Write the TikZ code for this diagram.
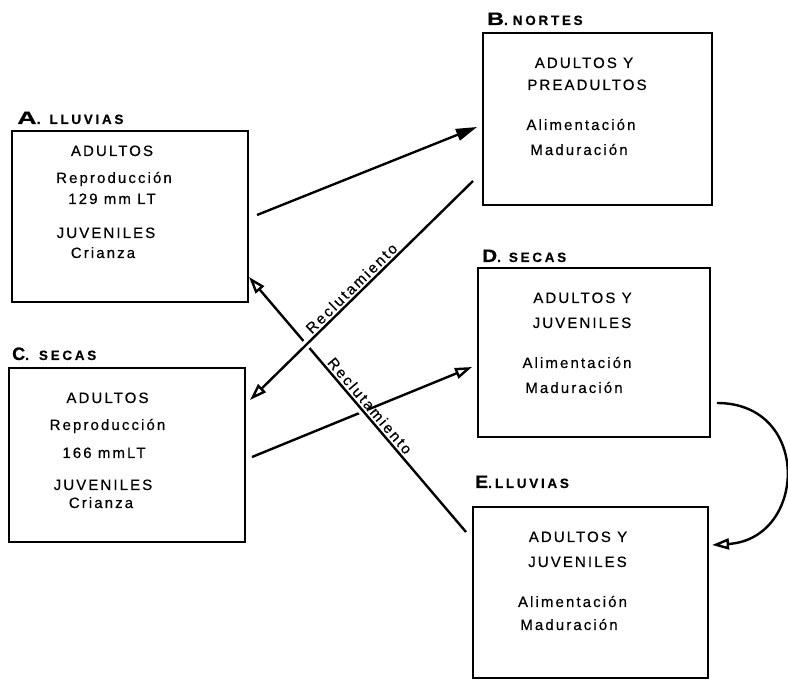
\documentclass[tikz,border=0pt]{standalone}
\usepackage{fontspec}
\usepackage{graphicx}
\setmainfont{Liberation Sans}
\newfontfamily\bodyfont[LetterSpace=14,FakeBold=0.5]{Liberation Sans}
\newfontfamily\headfont[LetterSpace=20,FakeBold=0.4]{Liberation Sans Bold}
\newfontfamily\letterfont[FakeBold=0.4]{Liberation Sans Bold}
\usetikzlibrary{arrows.meta,calc}

\begin{document}
\begin{tikzpicture}[x=1pt,y=-1pt,
  panel/.style 2 args={draw, line width=2.4pt, minimum width=#1, minimum height=#2,
    inner sep=0pt, outer sep=0pt},
  txt/.style={anchor=base, inner sep=0pt, font=\bodyfont\fontsize{15}{18}\selectfont},
  head/.style={anchor=base west, inner sep=0pt},
  link/.style={line width=2.4pt},
  openhead/.style={-{Triangle[open,length=17pt,width=11pt]}},
  fullhead/.style={-{Triangle[length=21pt,width=12pt]}},
  halo/.style={preaction={draw=white, line width=9pt, -, shorten <=25pt, shorten >=25pt}},
  tag/.style={sloped, above, inner sep=2pt, font=\bodyfont\fontsize{15}{18}\selectfont}]

\useasboundingbox (0,0) rectangle (788,684);

% season panels
\node[panel={236pt}{171pt}] (A) at (130,216.5) {};
\node[panel={229pt}{172pt}] (B) at (597.5,119) {};
\node[panel={236pt}{174pt}] (C) at (127,455) {};
\node[panel={232pt}{169pt}] (D) at (594,352.5) {};
\node[panel={235pt}{171pt}] (E) at (590.5,592.5) {};

% panel headings: wide bold letter, then the season in spaced capitals
\newcommand\bigletter[2]{\scalebox{#1}[1]{\letterfont\fontsize{18}{18}\selectfont #2}}
\newcommand\smallhead[1]{{\headfont\fontsize{13.5}{14}\selectfont #1}}
\node[head] (hA) at (17,124)  {\bigletter{1.5}{A}\smallhead{.\hspace{9pt}LLUVIAS}};
\node[head] (hB) at (487,25)  {\bigletter{1.3}{B}\smallhead{.\hspace{5pt}NORTES}};
\node[head] (hC) at (12,360)  {\bigletter{1.0}{C}\smallhead{.\hspace{10pt}SECAS}};
\node[head] (hD) at (482,262) {\bigletter{1.15}{D}\smallhead{.\hspace{8pt}SECAS}};
\node[head] (hE) at (475,488) {\bigletter{1.08}{E}\smallhead{.\hspace{3pt}LLUVIAS}};

% panel contents
\node[txt] (a1) at (112,156) {ADULTOS};
\node[txt] (a2) at (114,183) {Reproducción};
\node[txt] (a3) at (112,204) {129 mm LT};
\node[txt] (a4) at (106,238) {JUVENILES};
\node[txt] (a5) at (103,258) {Crianza};

\node[txt] (b1) at (584,68)  {ADULTOS Y};
\node[txt] (b2) at (587,90)  {PREADULTOS};
\node[txt] (b3) at (581,130) {Alimentación};
\node[txt] (b4) at (579,155) {Maduración};

\node[txt] (c1) at (107.5,403) {ADULTOS};
\node[txt] (c2) at (107.5,430) {Reproducción};
\node[txt] (c3) at (104,458)   {166 mmLT};
\node[txt] (c4) at (103,490)   {JUVENILES};
\node[txt] (c5) at (101,508)   {Crianza};

\node[txt] (d1) at (582.5,303) {ADULTOS Y};
\node[txt] (d2) at (582,328)   {JUVENILES};
\node[txt] (d3) at (577,368)   {Alimentación};
\node[txt] (d4) at (574,393)   {Maduración};

\node[txt] (e1) at (578,542)   {ADULTOS Y};
\node[txt] (e2) at (577.5,567) {JUVENILES};
\node[txt] (e3) at (572.5,607) {Alimentación};
\node[txt] (e4) at (569,630)   {Maduración};

% connector ends
\coordinate (abS) at ($(A.east)+(9,-1.5)$);
\coordinate (abE) at ($(B.west)+(-6,8)$);
\coordinate (bcS) at ($(B.west)+(-10,62)$);
\coordinate (bcE) at ($(C.east)+(5,-55)$);
\coordinate (eaS) at ($(E.west)+(-7,-60.5)$);
\coordinate (eaE) at ($(A.east)+(1,60.5)$);
\coordinate (cdS) at ($(C.east)+(7,2)$);
\coordinate (cdE) at ($(D.west)+(-6,14.5)$);
\coordinate (deS) at ($(D.east)+(7,50.5)$);
\coordinate (deE) at ($(E.east)+(4,-47.5)$);

% connectors
\draw[link, fullhead] (abS) -- (abE);
\draw[link, openhead] (cdS) -- (cdE);
\draw[link, openhead, halo] (eaS) -- node[tag, pos=0.473] (rE) {Reclutamiento} (eaE);
\draw[link, openhead, halo] (bcS) -- node[tag, pos=0.518] (rB) {Reclutamiento} (bcE);
\draw[link, openhead] (deS) .. controls +(95,0) and +(95,-6) .. (deE);

\end{tikzpicture}
\end{document}
